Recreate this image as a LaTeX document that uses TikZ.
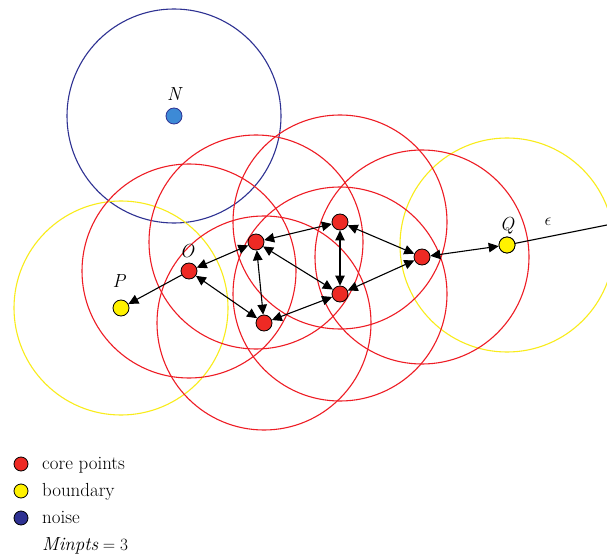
\documentclass[tikz,border=0pt]{standalone}
\usepackage{fontspec}
\usetikzlibrary{arrows.meta}
\definecolor{cred}{HTML}{EE2A24}
\definecolor{cyel}{HTML}{FFF200}
\definecolor{cyelc}{HTML}{F9EC1A}
\definecolor{cblue}{HTML}{2E3192}
\definecolor{clblue}{HTML}{3D8AD6}
\definecolor{credc}{HTML}{EE1C24}
\begin{document}
\begin{tikzpicture}[x=1bp,y=-1bp,
  pt/.style={circle,draw=black,line width=0.8bp,minimum size=16bp,inner sep=0pt},
  core/.style={pt,fill=cred},
  bnd/.style={pt,fill=cyel},
  noisept/.style={pt,draw=cblue,fill=clblue},
  lgd/.style={circle,draw=black,line width=0.8bp,minimum size=14bp,inner sep=0pt},
  lbl/.style={font=\fontsize{19}{22}\selectfont\itshape},
  ltext/.style={font=\fontsize{19}{22}\selectfont,anchor=base west,inner sep=0pt},
  rng/.style={line width=1.1bp},
  arr/.style={line width=1.1bp,{Triangle[length=10bp,width=9.5bp]}-{Triangle[length=10bp,width=9.5bp]}},
  arr1/.style={line width=1.1bp,-{Triangle[length=10bp,width=9.5bp]}}]
\useasboundingbox (0,0) rectangle (607,560);
\clip (0,0) rectangle (607,560);
\fill[white] (0,0) rectangle (607,560);
% ranges
\draw[rng,cblue] (174,116) circle[radius=107bp];
\draw[rng,cyelc] (121,308) circle[radius=107bp];
\draw[rng,cyelc] (507,245) circle[radius=107bp];
\foreach \p in {(189,271),(256,242),(340,222),(340,294),(264,323),(422,257)}
  \draw[rng,credc] \p circle[radius=107bp];
% points
\node[noisept] (N) at (174,116) {};
\node[core] (O) at (189,271) {};
\node[bnd] (P) at (121,308) {};
\node[core] (A) at (256,242) {};
\node[core] (B) at (340,222) {};
\node[core] (C) at (340,294) {};
\node[core] (D) at (264,323) {};
\node[core] (E) at (422,257) {};
\node[bnd] (Q) at (507,245) {};
\coordinate (R) at (612,224);
% labels
\node[lbl] (lN) at (174,94) {N};
\node[lbl] (lO) at (187,251) {O};
\node[lbl] (lP) at (119,281) {P};
\node[lbl] (lQ) at (507,226) {Q};
\node[font=\fontsize{18}{20}\selectfont] (leps) at (548,222) {$\epsilon$};
% connectors
\draw[arr1] (O) -- (P);
\draw[arr] (O) -- (A);
\draw[arr] (O) -- (D);
\draw[arr] (A) -- (B);
\draw[arr] (A) -- (D);
\draw[arr] (A) -- (C);
\draw[arr] (B) -- (C);
\draw[arr] (B) -- (E);
\draw[arr] (D) -- (C);
\draw[arr] (C) -- (E);
\draw[arr] (E) -- (Q);
\draw[line width=1.1bp] (Q.center) -- (R);
\node[bnd] at (Q) {};
% legend
\node[lgd,fill=cred] (g1) at (21,464) {};
\node[lgd,fill=cyel] (g2) at (21,491) {};
\node[lgd,fill=cblue] (g3) at (21,518) {};
\node[ltext] (t1) at (42,469) {core points};
\node[ltext] (t2) at (42,496) {boundary};
\node[ltext] (t3) at (42,523) {noise};
\node[ltext] (t4) at (42,550) {$\mathit{Minpts}=3$};
\end{tikzpicture}
\end{document}
